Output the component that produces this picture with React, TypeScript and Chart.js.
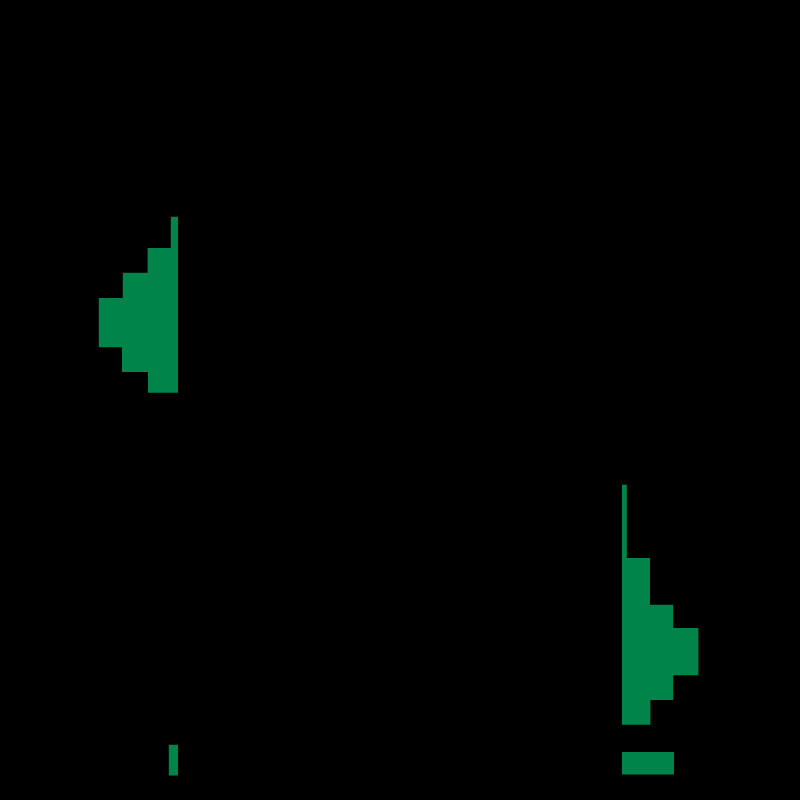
import React, { useEffect, useRef } from "react";
import { Chart, registerables } from "chart.js";

Chart.register(...registerables);

// Split histogram: left group grows leftwards from its baseline, right group rightwards.
const leftBaseline = 22.25;
const leftBinEdges = [27.1, 31.0, 34.1, 37.25, 43.4, 46.5, 49.1];
const leftCounts = [0.9, 3.8, 6.9, 9.9, 7.0, 3.75];

const rightBaseline = 77.75;
const rightBinEdges = [60.6, 69.75, 75.6, 78.5, 84.4, 87.5, 90.6];
const rightCounts = [0.6, 3.5, 6.4, 9.55, 6.4, 3.55];

// Extra single bars (bottom row)
const leftExtraEdges = [93.1, 96.95];
const leftExtraCounts = [1.15];
const rightExtraEdges = [94.0, 96.8];
const rightExtraCounts = [6.5];

const GREEN = "rgb(0,132,73)";

function histPolygon(base: number, edges: number[], counts: number[], dir: number) {
  const pts: { x: number; y: number }[] = [{ x: base, y: edges[0] }];
  counts.forEach((c, i) => {
    pts.push({ x: base + dir * c, y: edges[i] });
    pts.push({ x: base + dir * c, y: edges[i + 1] });
  });
  pts.push({ x: base, y: edges[edges.length - 1] });
  return pts;
}

function shapeDataset(data: { x: number; y: number }[]) {
  return {
    type: "line" as const,
    data,
    fill: "shape",
    backgroundColor: GREEN,
    borderColor: GREEN,
    borderWidth: 0,
    pointRadius: 0,
    tension: 0,
  };
}

export default function App() {
  const ref = useRef<HTMLCanvasElement | null>(null);
  useEffect(() => {
    document.body.style.background = "#000";
    const chart = new Chart(ref.current!, {
      type: "line",
      data: {
        datasets: [
          shapeDataset(histPolygon(leftBaseline, leftBinEdges, leftCounts, -1)),
          shapeDataset(histPolygon(rightBaseline, rightBinEdges, rightCounts, 1)),
          shapeDataset(histPolygon(leftBaseline, leftExtraEdges, leftExtraCounts, -1)),
          shapeDataset(histPolygon(rightBaseline, rightExtraEdges, rightExtraCounts, 1)),
        ] as any,
      },
      options: {
        animation: false,
        responsive: true,
        maintainAspectRatio: false,
        layout: { padding: 0 },
        plugins: { legend: { display: false }, tooltip: { enabled: false } },
        scales: {
          x: { type: "linear", min: 0, max: 100, display: false },
          y: { type: "linear", min: 0, max: 100, reverse: true, display: false },
        },
      },
    });
    return () => chart.destroy();
  }, []);
  return (
    <div
      style={{
        position: "fixed",
        left: 0,
        top: 0,
        width: 800,
        height: 800,
        background: "#000",
      }}
    >
      <canvas ref={ref} />
    </div>
  );
}
